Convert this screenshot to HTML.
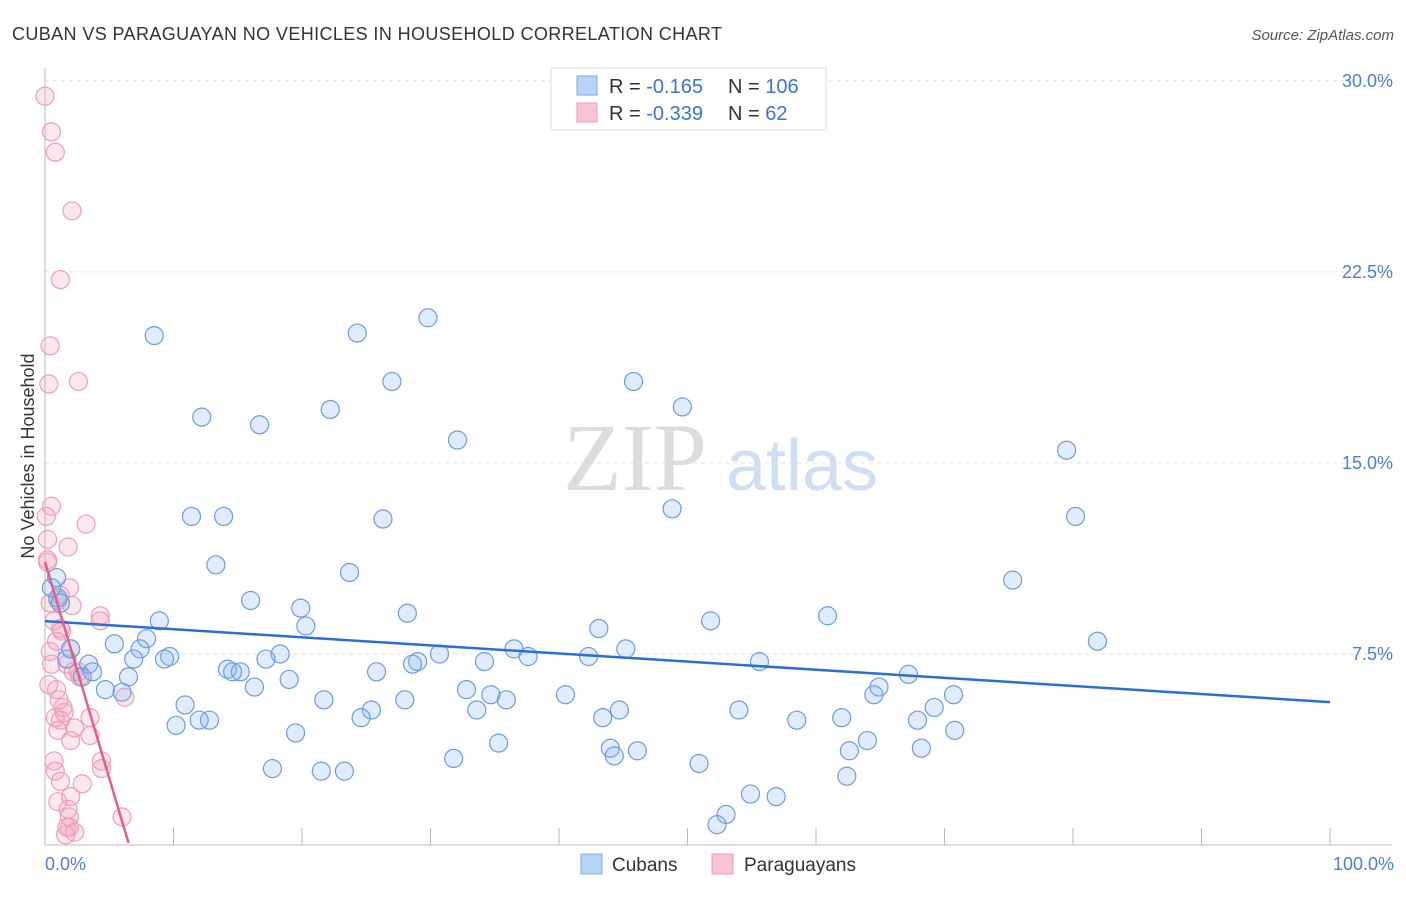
<!DOCTYPE html>
<html><head><meta charset="utf-8"><style>
body{margin:0;background:#fff;font-family:"Liberation Sans",sans-serif}
svg text{font-family:"Liberation Sans",sans-serif}
</style></head><body>
<svg id="c" width="1406" height="892" viewBox="0 0 1406 892">
<text x="12" y="40" font-size="18" fill="#333" textLength="710">CUBAN VS PARAGUAYAN NO VEHICLES IN HOUSEHOLD CORRELATION CHART</text>
<text x="1394" y="40" font-size="15" fill="#555" font-style="italic" text-anchor="end">Source: ZipAtlas.com</text>
<g>
<text x="635" y="490" font-size="96" fill="#dcdcdc" font-family="Liberation Serif" text-anchor="middle" style="font-family:'Liberation Serif',serif">ZIP</text>
<text x="802" y="490" font-size="72" fill="#cfdff2" text-anchor="middle">atlas</text>
</g>
<g id="grid"></g>
<g id="axes"></g>
<g id="pts"></g>
<g id="trend"></g>
<text transform="translate(34,456) rotate(-90)" font-size="18" fill="#333" text-anchor="middle">No Vehicles in Household</text>
<text x="45" y="870" font-size="18" fill="#4a7fd4">0.0%</text>
<text x="1394" y="870" font-size="18" fill="#4a7fd4" text-anchor="end">100.0%</text>
<g>
<rect x="551" y="68" width="275" height="62" fill="#fff" stroke="#ddd"/>
<rect x="577" y="76" width="20" height="19" fill="#b8d3f5" stroke="#7ea8e0"/>
<rect x="577" y="103" width="20" height="19" fill="#f9c4d3" stroke="#eb9ab2"/>
<text x="609" y="93" font-size="20" fill="#333">R = <tspan fill="#3a74d0"> -0.165</tspan></text>
<text x="728" y="93" font-size="20" fill="#333">N = <tspan fill="#3a74d0">106</tspan></text>
<text x="609" y="120" font-size="20" fill="#333">R = <tspan fill="#3a74d0">-0.339</tspan></text>
<text x="728" y="120" font-size="20" fill="#333">N = <tspan fill="#3a74d0">  62</tspan></text>
</g>
<g>
<rect x="581" y="854" width="21" height="20" fill="#b8d3f5" stroke="#7ea8e0"/>
<text x="612" y="871" font-size="19" fill="#333">Cubans</text>
<rect x="712" y="854" width="21" height="20" fill="#f9c4d3" stroke="#eb9ab2"/>
<text x="744" y="871" font-size="19" fill="#333">Paraguayans</text>
</g>
</svg>
<script>
const yTicks=[7.5,15,22.5,30];
const yTickLabels=["7.5%","15.0%","22.5%","30.0%"];
const xTicks=[10,20,30,40,50,60,70,80,90,100];
const cubanX=[8.5,24.3,29.8,27.0,45.8,49.6,22.2,12.2,16.7,32.1,79.5,11.4,13.9,26.3,48.8,80.2,13.3,23.7,75.3,0.9,16.0,8.9,19.9,28.2,60.9,51.8,1.0,20.3,43.1,81.9,7.9,5.4,7.4,36.5,45.2,37.6,42.3,9.7,9.3,6.9,18.3,17.2,14.2,15.2,14.6,29.0,28.6,34.2,30.7,55.6,67.2,25.8,3.4,3.7,6.5,2.9,1.7,2.0,19.0,64.9,64.5,32.8,34.7,35.9,21.7,28.0,40.5,70.7,4.7,6.0,16.3,10.9,25.4,33.6,24.6,44.7,54.0,69.2,62.0,58.5,43.4,67.9,12.8,12.0,10.2,70.8,19.5,35.3,64.0,44.0,46.1,62.6,68.2,31.8,44.3,50.9,17.7,21.5,23.3,62.4,54.9,56.9,53.0,52.3,1.2,0.5];
const cubanY=[20.0,20.1,20.7,18.2,18.2,17.2,17.1,16.8,16.5,15.9,15.5,12.9,12.9,12.8,13.2,12.9,11.0,10.7,10.4,10.5,9.6,8.8,9.3,9.1,9.0,8.8,9.7,8.6,8.5,8.0,8.1,7.9,7.7,7.7,7.7,7.4,7.4,7.4,7.3,7.3,7.5,7.3,6.9,6.8,6.8,7.2,7.1,7.2,7.5,7.2,6.7,6.8,7.1,6.8,6.6,6.6,7.3,7.7,6.5,6.2,5.9,6.1,5.9,5.7,5.7,5.7,5.9,5.9,6.1,6.0,6.2,5.5,5.3,5.3,5.0,5.3,5.3,5.4,5.0,4.9,5.0,4.9,4.9,4.9,4.7,4.5,4.4,4.0,4.1,3.8,3.7,3.7,3.8,3.4,3.5,3.2,3.0,2.9,2.9,2.7,2.0,1.9,1.2,0.8,9.5,10.1];
const paraX=[0.0,0.5,0.8,2.1,1.2,0.4,0.3,2.6,0.5,0.1,3.2,0.2,1.8,0.2,1.9,1.2,1.0,2.1,4.3,0.4,0.7,1.2,2.0,0.4,0.9,0.5,1.7,2.2,2.6,2.7,0.9,0.3,1.1,1.4,1.5,0.8,2.3,1.2,1.0,3.5,2.0,6.2,4.4,4.4,0.7,0.8,1.2,2.9,1.0,2.0,1.8,1.9,1.9,2.3,1.6,6.0,1.7,3.5,0.2,4.3,1.3];
const paraY=[29.4,28.0,27.2,24.9,22.2,19.6,18.1,18.2,13.3,12.9,12.6,12.0,11.7,11.1,10.1,9.8,9.6,9.4,9.0,9.5,8.8,8.5,7.7,7.6,8.0,7.1,7.1,6.8,6.8,6.6,6.1,6.3,5.7,5.4,5.2,5.0,4.6,4.9,4.5,4.3,4.1,5.8,3.3,3.0,3.3,2.9,2.5,2.4,1.7,1.9,1.4,1.1,0.7,0.5,0.4,1.1,0.7,5.0,11.2,8.8,8.4];
const cubanTrend=[[0,8.79],[100,5.61]];
const paraTrend=[[0,11.11],[6.5,0.08]];
const NS="http://www.w3.org/2000/svg";
const X=v=>45+v*12.85, Y=v=>845-v*25.47;
function mk(t,a,p){const e=document.createElementNS(NS,t);for(const k in a)e.setAttribute(k,a[k]);p.appendChild(e);return e;}
const grid=document.getElementById('grid'),axes=document.getElementById('axes'),pts=document.getElementById('pts'),tr=document.getElementById('trend');
yTicks.forEach((v,i)=>{
 const l=mk('line',{x1:45,x2:1392,y1:Y(v),y2:Y(v),stroke:'#e0e0e0','stroke-dasharray':'4,4'},grid);
 
 
 const t=mk('text',{x:1393,y:Y(v)+6,'font-size':18,fill:'#4a7fd4','text-anchor':'end'},grid);
 t.textContent=yTickLabels[i];
 
 
});
const ya=mk('line',{x1:45,x2:45,y1:68,y2:845,stroke:'#bbb'},axes);


const xa=mk('line',{x1:45,x2:1392,y1:845,y2:845,stroke:'#bbb'},axes);


xTicks.forEach(v=>{
 const t=mk('line',{x1:X(v),x2:X(v),y1:828,y2:845,stroke:'#bbb'},axes);
 
 
});
paraX.forEach((v,i)=>{
 const c=mk('circle',{cx:X(v),cy:Y(paraY[i]),r:9,fill:'rgba(244,160,188,0.25)',stroke:'#ee9fb8','stroke-width':1.2},pts);
 
 
});
cubanX.forEach((v,i)=>{
 const c=mk('circle',{cx:X(v),cy:Y(cubanY[i]),r:9,fill:'rgba(130,178,238,0.25)',stroke:'#6b9ce0','stroke-width':1.2},pts);
 
 
});
const l1=mk('line',{x1:X(cubanTrend[0][0]),y1:Y(cubanTrend[0][1]),x2:X(cubanTrend[1][0]),y2:Y(cubanTrend[1][1]),stroke:'#2a6fd4','stroke-width':2.5},tr);


const l2=mk('line',{x1:X(paraTrend[0][0]),y1:Y(paraTrend[0][1]),x2:X(paraTrend[1][0]),y2:Y(paraTrend[1][1]),stroke:'#e0608a','stroke-width':2.5},tr);


</script>
</body></html>
